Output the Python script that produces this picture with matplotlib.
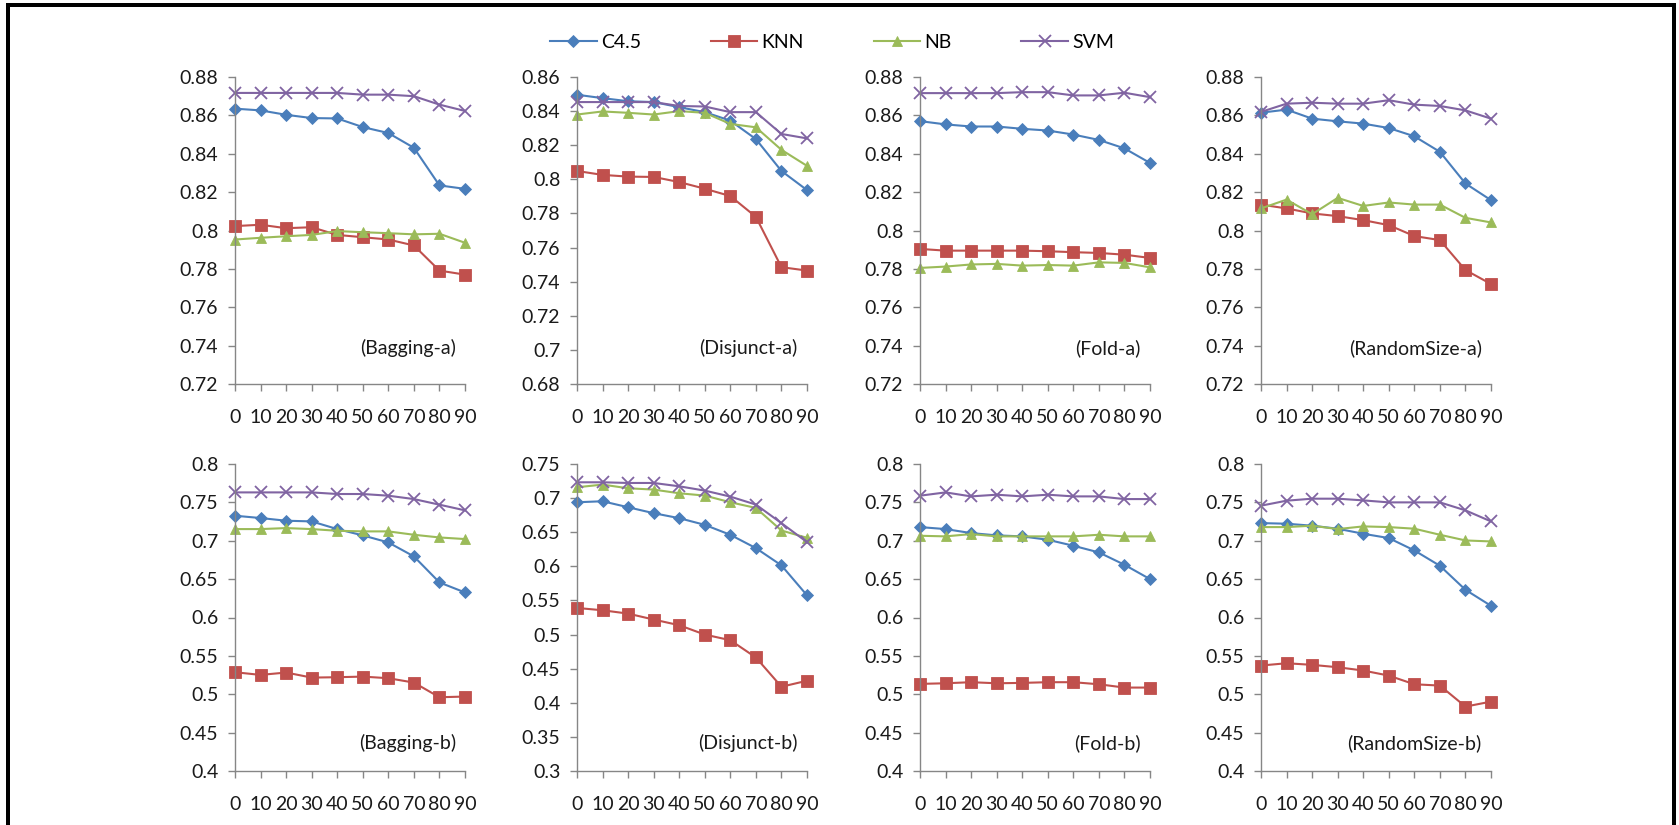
import matplotlib
matplotlib.use("Agg")
import matplotlib.pyplot as plt
from matplotlib.lines import Line2D
from matplotlib.ticker import FuncFormatter, MultipleLocator

plt.rcParams["font.family"] = ["Lato", "DejaVu Sans"]

# noise level (x axis)
noise = [0, 10, 20, 30, 40, 50, 60, 70, 80, 90]
methods = ["C4.5", "KNN", "NB", "SVM"]

# (Bagging-a)
c45_bag_a = [0.8635, 0.8626, 0.8603, 0.8586, 0.8584, 0.8539, 0.8508, 0.8431, 0.8235, 0.8217]
knn_bag_a = [0.8023, 0.8030, 0.8012, 0.8017, 0.7977, 0.7965, 0.7953, 0.7922, 0.7791, 0.7770]
nb_bag_a = [0.7953, 0.7962, 0.7970, 0.7977, 0.7997, 0.7991, 0.7986, 0.7980, 0.7983, 0.7936]
svm_bag_a = [0.8717, 0.8717, 0.8717, 0.8717, 0.8717, 0.8708, 0.8708, 0.8700, 0.8656, 0.8623]

# (Disjunct-a)
c45_dis_a = [0.8496, 0.8476, 0.8458, 0.8453, 0.8423, 0.8394, 0.8344, 0.8236, 0.8049, 0.7937]
knn_dis_a = [0.8049, 0.8026, 0.8016, 0.8014, 0.7984, 0.7945, 0.7902, 0.7780, 0.7485, 0.7465]
nb_dis_a = [0.8380, 0.8398, 0.8390, 0.8380, 0.8400, 0.8390, 0.8325, 0.8305, 0.8173, 0.8079]
svm_dis_a = [0.8453, 0.8453, 0.8453, 0.8453, 0.8430, 0.8427, 0.8394, 0.8394, 0.8266, 0.8240]

# (Fold-a)
c45_fold_a = [0.8570, 0.8553, 0.8542, 0.8542, 0.8530, 0.8521, 0.8500, 0.8472, 0.8428, 0.8352]
knn_fold_a = [0.7904, 0.7895, 0.7895, 0.7895, 0.7895, 0.7892, 0.7887, 0.7883, 0.7874, 0.7857]
nb_fold_a = [0.7805, 0.7812, 0.7823, 0.7826, 0.7817, 0.7820, 0.7817, 0.7834, 0.7831, 0.7808]
svm_fold_a = [0.8716, 0.8716, 0.8716, 0.8716, 0.8721, 0.8721, 0.8704, 0.8704, 0.8718, 0.8695]

# (RandomSize-a)
c45_rs_a = [0.8614, 0.8630, 0.8583, 0.8569, 0.8557, 0.8534, 0.8491, 0.8410, 0.8245, 0.8158]
knn_rs_a = [0.8135, 0.8115, 0.8089, 0.8075, 0.8054, 0.8028, 0.7971, 0.7950, 0.7794, 0.7721]
nb_rs_a = [0.8115, 0.8161, 0.8085, 0.8170, 0.8128, 0.8146, 0.8135, 0.8135, 0.8066, 0.8042]
svm_rs_a = [0.8618, 0.8661, 0.8666, 0.8661, 0.8661, 0.8679, 0.8656, 0.8649, 0.8626, 0.8583]

# (Bagging-b)
c45_bag_b = [0.7326, 0.7296, 0.7261, 0.7252, 0.7152, 0.7070, 0.6978, 0.6796, 0.6457, 0.6326]
knn_bag_b = [0.5287, 0.5252, 0.5283, 0.5217, 0.5222, 0.5230, 0.5209, 0.5152, 0.4961, 0.4970]
nb_bag_b = [0.7152, 0.7152, 0.7165, 0.7152, 0.7130, 0.7122, 0.7122, 0.7078, 0.7043, 0.7022]
svm_bag_b = [0.7630, 0.7630, 0.7630, 0.7630, 0.7609, 0.7609, 0.7587, 0.7543, 0.7470, 0.7396]

# (Disjunct-b)
c45_dis_b = [0.6939, 0.6954, 0.6866, 0.6779, 0.6706, 0.6608, 0.6462, 0.6267, 0.6014, 0.5575]
knn_dis_b = [0.5390, 0.5356, 0.5307, 0.5220, 0.5137, 0.5000, 0.4917, 0.4664, 0.4235, 0.4323]
nb_dis_b = [0.7159, 0.7198, 0.7144, 0.7125, 0.7071, 0.7037, 0.6939, 0.6856, 0.6525, 0.6418]
svm_dis_b = [0.7232, 0.7232, 0.7222, 0.7222, 0.7173, 0.7110, 0.7022, 0.6905, 0.6633, 0.6355]

# (Fold-b)
c45_fold_b = [0.7178, 0.7152, 0.7100, 0.7070, 0.7057, 0.7013, 0.6935, 0.6848, 0.6687, 0.6500]
knn_fold_b = [0.5135, 0.5143, 0.5157, 0.5143, 0.5148, 0.5157, 0.5157, 0.5130, 0.5087, 0.5087]
nb_fold_b = [0.7065, 0.7057, 0.7087, 0.7057, 0.7057, 0.7057, 0.7057, 0.7078, 0.7057, 0.7057]
svm_fold_b = [0.7587, 0.7630, 0.7578, 0.7600, 0.7578, 0.7600, 0.7578, 0.7578, 0.7543, 0.7543]

# (RandomSize-b)
c45_rs_b = [0.7230, 0.7222, 0.7196, 0.7157, 0.7091, 0.7035, 0.6874, 0.6674, 0.6361, 0.6152]
knn_rs_b = [0.5374, 0.5404, 0.5383, 0.5352, 0.5309, 0.5243, 0.5130, 0.5113, 0.4839, 0.4904]
nb_rs_b = [0.7178, 0.7178, 0.7196, 0.7152, 0.7187, 0.7178, 0.7157, 0.7078, 0.7004, 0.6991]
svm_rs_b = [0.7457, 0.7522, 0.7548, 0.7548, 0.7526, 0.7500, 0.7500, 0.7500, 0.7396, 0.7252]

panels = [
    ("(Bagging-a)", [c45_bag_a, knn_bag_a, nb_bag_a, svm_bag_a], (0.72, 0.88), 0.02),
    ("(Disjunct-a)", [c45_dis_a, knn_dis_a, nb_dis_a, svm_dis_a], (0.68, 0.86), 0.02),
    ("(Fold-a)", [c45_fold_a, knn_fold_a, nb_fold_a, svm_fold_a], (0.72, 0.88), 0.02),
    ("(RandomSize-a)", [c45_rs_a, knn_rs_a, nb_rs_a, svm_rs_a], (0.72, 0.88), 0.02),
    ("(Bagging-b)", [c45_bag_b, knn_bag_b, nb_bag_b, svm_bag_b], (0.4, 0.8), 0.05),
    ("(Disjunct-b)", [c45_dis_b, knn_dis_b, nb_dis_b, svm_dis_b], (0.3, 0.75), 0.05),
    ("(Fold-b)", [c45_fold_b, knn_fold_b, nb_fold_b, svm_fold_b], (0.4, 0.8), 0.05),
    ("(RandomSize-b)", [c45_rs_b, knn_rs_b, nb_rs_b, svm_rs_b], (0.4, 0.8), 0.05),
]

colors = ["#4A7EBB", "#C0504D", "#9BBB59", "#8064A2"]
markers = ["D", "s", "^", "x"]
msizes = [6.2, 8.2, 7.5, 8.5]
axis_col = "#868686"

W, H = 1679, 825
fig = plt.figure(figsize=(W / 100, H / 100), dpi=100)

col_left = [235, 577, 920, 1261]
row_top = [77, 464]
row_bot = [384, 771]
ax_w = 230

fs = 14
for i, (label, series, ylim, step) in enumerate(panels):
    r, c = divmod(i, 4)
    ax = fig.add_axes([col_left[c] / W, 1 - row_bot[r] / H, ax_w / W,
                       (row_bot[r] - row_top[r]) / H])
    for ys, col, mk, ms in zip(series, colors, markers, msizes):
        ax.plot(noise, ys, color=col, marker=mk, markersize=ms,
                markeredgewidth=1.3 if mk == "x" else 0.6, lw=1.5, clip_on=False)
    ax.set_xlim(0, 90)
    ax.set_ylim(*ylim)
    ax.set_xticks(noise)
    ax.yaxis.set_major_locator(MultipleLocator(step))
    ax.yaxis.set_major_formatter(FuncFormatter(lambda v, p: f"{round(v, 2):g}"))
    for s in ["top", "right"]:
        ax.spines[s].set_visible(False)
    for s in ["left", "bottom"]:
        ax.spines[s].set_color(axis_col)
        ax.spines[s].set_linewidth(1)
    ax.tick_params(axis="x", length=5, width=1, color=axis_col, pad=13,
                   labelsize=fs, labelcolor="#1a1a1a")
    ax.tick_params(axis="y", length=5, width=1, color=axis_col, pad=7,
                   labelsize=fs, labelcolor="#1a1a1a")
    ax.text(0.96, 0.116 if r == 0 else 0.09, label, transform=ax.transAxes,
            ha="right", va="center", fontsize=fs, color="#1a1a1a")

handles = [Line2D([], [], color=col, marker=mk, markersize=ms, lw=1.5,
                  markeredgewidth=1.3 if mk == "x" else 0.6)
           for col, mk, ms in zip(colors, markers, msizes)]
fig.legend(handles, methods, loc="center", ncol=4,
           bbox_to_anchor=(832 / W, 1 - 42 / H), frameon=False, fontsize=fs,
           handlelength=2.4, handletextpad=0.2, columnspacing=3.6)

# black frame round the figure (left, top, right)
lw_px = 4 * 0.72
fig.add_artist(Line2D([8 / W, 8 / W], [0, 1 - 5 / H], color="black", lw=lw_px,
                      transform=fig.transFigure))
fig.add_artist(Line2D([8 / W, 1 - 5 / W], [1 - 5 / H, 1 - 5 / H], color="black",
                      lw=lw_px, transform=fig.transFigure))
fig.add_artist(Line2D([1 - 5 / W, 1 - 5 / W], [0, 1 - 5 / H], color="black",
                      lw=lw_px, transform=fig.transFigure))

fig.savefig("out.png", dpi=100)
